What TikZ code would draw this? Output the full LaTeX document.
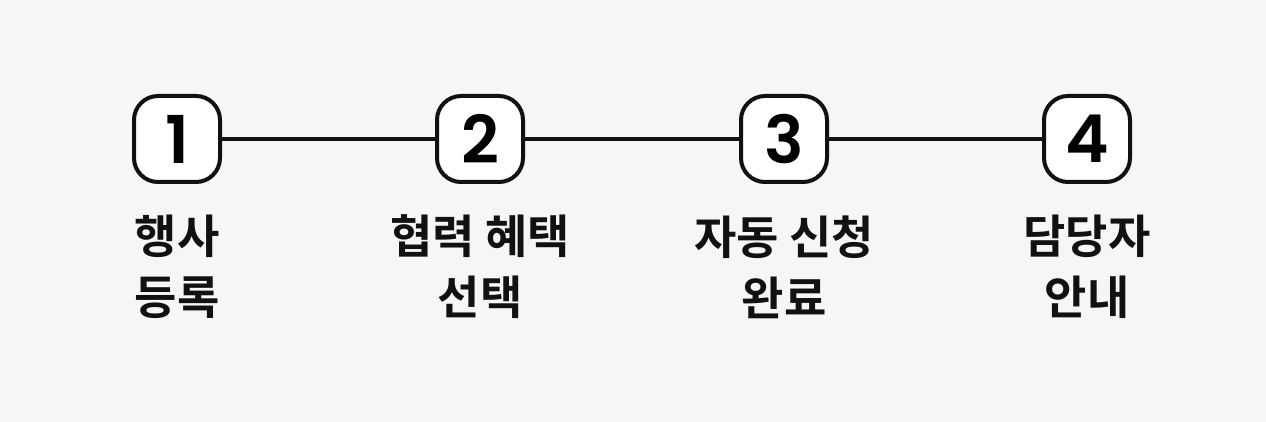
\documentclass[tikz,border=0pt]{standalone}
\usepackage{fontspec}
\newfontfamily\kr{Noto Sans CJK KR Bold}
\newfontfamily\num{Poppins SemiBold}
\definecolor{bgcol}{HTML}{F6F6F6}
\definecolor{ink}{HTML}{111111}
\begin{document}
\begin{tikzpicture}[x=1pt, y=-1pt,
  numbox/.style={draw=ink, line width=4pt, fill=white, rounded corners=24pt,
    minimum width=86pt, minimum height=86pt, inner sep=0pt, font=\num\fontsize{66}{66}\selectfont},
  steptext/.style={align=center, text=ink, font=\kr\fontsize{46}{61}\selectfont}]
  \fill[bgcol] (0,0) rectangle (1266,422);
  \node[numbox] (n1) at (177,139) {1};
  \node[numbox] (n2) at (480,139) {2};
  \node[numbox] (n3) at (784,139) {3};
  \node[numbox] (n4) at (1087,139) {4};
  \node[steptext] (t1) at (177,267) {행사\\등록};
  \node[steptext] (t2) at (480,267) {협력 혜택\\선택};
  \node[steptext] (t3) at (784,267) {자동 신청\\완료};
  \node[steptext] (t4) at (1087,267) {담당자\\안내};
  \draw[ink, line width=4pt] (n1) -- (n2) -- (n3) -- (n4);
\end{tikzpicture}
\end{document}
